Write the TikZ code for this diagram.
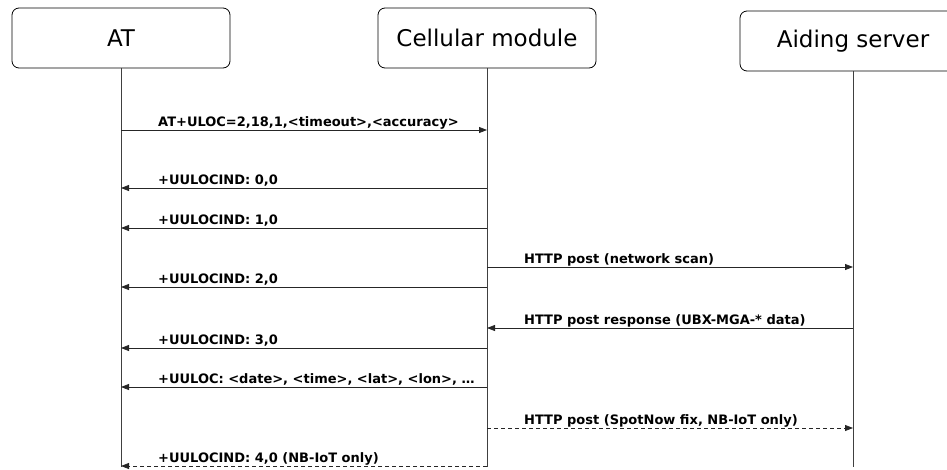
\documentclass[tikz,border=0pt]{standalone}
\usepackage{fontspec}
\setmainfont{DejaVu Sans}
\usetikzlibrary{arrows.meta}
\tikzset{ent/.style={draw,rounded corners=7pt,line width=0.8pt,minimum height=60pt,font=\fontsize{23}{26}\selectfont},life/.style={draw=black!75,line width=0.8pt},msg/.style={draw=black!85,line width=0.8pt,-{Triangle[length=8pt,width=6pt]}},dmsg/.style={msg,dash pattern=on 4pt off 3pt},lbl/.style={anchor=base west,inner sep=0pt,font=\bfseries\fontsize{13}{15}\selectfont}}

\begin{document}
\begin{tikzpicture}[x=1pt,y=-1pt]
\useasboundingbox(0,0)rectangle(947,469);
\node[ent,minimum width=218pt](at)at(121,38){AT};\node[ent,minimum width=218pt](cm)at(487,38){Cellular module};\node[ent,minimum width=226pt](as)at(853,41){Aiding server};
\coordinate(end)at(0,467);
\foreach\n in{at,cm,as}\draw[life](\n.south)--(\n|-end);
\foreach\y[count=\i]in{130,188,228,267,287,328,348,387,428,466}\coordinate(r\i)at(0,\y);
\foreach\i/\a/\b/\l/\s/\t in{1/at/cm/at/msg/{AT+ULOC=2,18,1,<timeout>,<accuracy>},2/cm/at/at/msg/{+UULOCIND: 0,0},3/cm/at/at/msg/{+UULOCIND: 1,0},4/cm/as/cm/msg/{HTTP post (network scan)},5/cm/at/at/msg/{+UULOCIND: 2,0},6/as/cm/cm/msg/{HTTP post response (UBX-MGA-* data)},7/cm/at/at/msg/{+UULOCIND: 3,0},8/cm/at/at/msg/{+UULOC: <date>, <time>, <lat>, <lon>, …},9/cm/as/cm/dmsg/{HTTP post (SpotNow fix, NB-IoT only)},10/cm/at/at/dmsg/{+UULOCIND: 4,0 (NB-IoT only)}}{\draw[\s](\a|-r\i)--(\b|-r\i);\node[lbl](m\i)at([xshift=37pt,yshift=4pt]\l|-r\i){\t};}
\end{tikzpicture}
\end{document}
